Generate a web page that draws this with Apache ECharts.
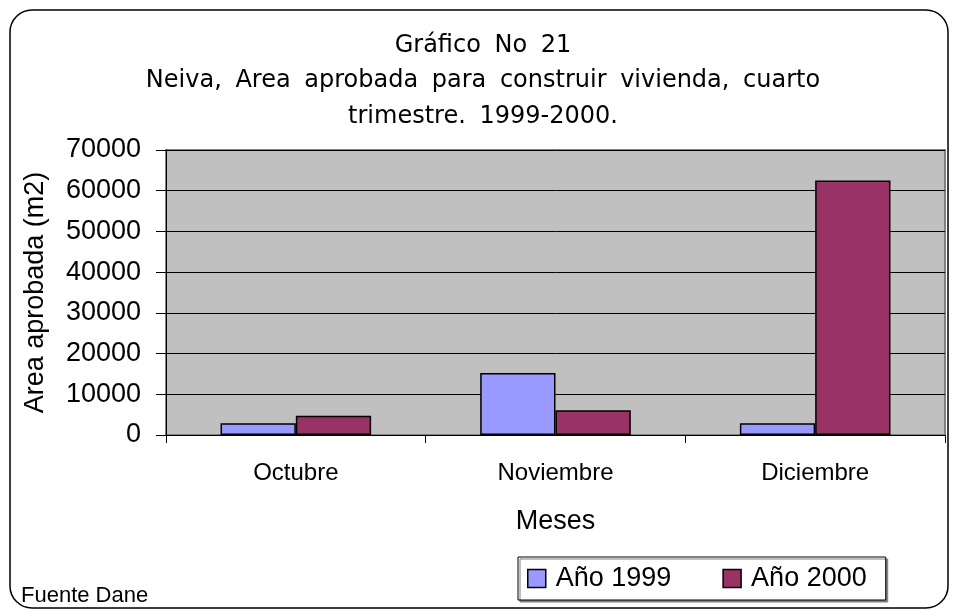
<!DOCTYPE html>
<html>
<head>
<meta charset="utf-8">
<script src="https://cdn.jsdelivr.net/npm/echarts@6/dist/echarts.min.js"></script>
<style>
  html, body { margin: 0; padding: 0; background: #fff; }
  #chart { width: 957px; height: 613px; }
</style>
</head>
<body>
<div id="chart"></div>
<script>
// data
var meses = ["Octubre", "Noviembre", "Diciembre"];
var ano1999 = [2900, 15200, 2900];
var ano2000 = [4750, 6100, 62500];
var yTicks = [0, 10000, 20000, 30000, 40000, 50000, 60000, 70000];
var titleLines = [
  "Gráfico No 21",
  "Neiva, Area aprobada para construir vivienda, cuarto",
  "trimestre. 1999-2000.",
];

// the original title font is widely spaced, so spaces get a bit of padding
function spaced(line) {
  return line.split(" ").join("{s| }");
}

var chartDom = document.getElementById("chart");
var myChart = echarts.init(chartDom);
var option;

option = {
  backgroundColor: "#fff",
  animation: false,
  title: {
    text: titleLines.map(spaced).join("\n"),
    left: 478,
    textAlign: "center",
    top: 23,
    textStyle: {
      fontFamily: "DejaVu Sans",
      fontWeight: "normal",
      fontSize: 24,
      lineHeight: 35.5,
      color: "#000",
      rich: {
        s: {
          fontFamily: "DejaVu Sans",
          fontSize: 24,
          lineHeight: 35.5,
          color: "#000",
          padding: [0, 3, 0, 3],
        },
      },
    },
  },
  legend: {
    left: 518,
    top: 557,
    padding: [8, 19, 8, 9],
    itemGap: 51,
    itemWidth: 18,
    itemHeight: 18,
    borderColor: "#000",
    borderWidth: 1,
    backgroundColor: "#fff",
    shadowColor: "#808080",
    shadowOffsetX: 2,
    shadowOffsetY: 2,
    textStyle: {
      fontFamily: "Liberation Sans",
      fontSize: 27,
      color: "#000",
      padding: [0, 0, 0, 5],
    },
    data: [
      { name: "Año 1999", icon: "rect", itemStyle: { borderColor: "#000", borderWidth: 1.5 } },
      { name: "Año 2000", icon: "rect", itemStyle: { borderColor: "#000", borderWidth: 1.5 } },
    ],
  },
  grid: {
    left: 166,
    top: 150,
    right: 12,
    bottom: 178,
    show: true,
    backgroundColor: "#C0C0C0",
    borderColor: "#808080",
    borderWidth: 2,
  },
  xAxis: {
    type: "category",
    data: meses,
    name: "Meses",
    nameLocation: "middle",
    nameGap: 73,
    nameTextStyle: {
      fontFamily: "Liberation Sans",
      fontSize: 27,
      color: "#000",
    },
    axisLine: { lineStyle: { color: "#000", width: 1 } },
    axisTick: { show: true, length: 8, lineStyle: { color: "#000" } },
    axisLabel: {
      margin: 26,
      fontFamily: "Liberation Sans",
      fontSize: 24,
      color: "#000",
    },
  },
  yAxis: {
    type: "value",
    min: yTicks[0],
    max: yTicks[yTicks.length - 1],
    interval: 10000,
    name: "Area aprobada (m2)",
    nameLocation: "middle",
    nameGap: 117,
    nameTextStyle: {
      fontFamily: "Liberation Sans",
      fontSize: 27,
      color: "#000",
    },
    axisLine: { show: true, lineStyle: { color: "#000", width: 1 } },
    axisTick: { show: true, length: 10, lineStyle: { color: "#000" } },
    axisLabel: {
      margin: 25,
      fontFamily: "Liberation Sans",
      fontSize: 27,
      color: "#000",
      formatter: function (v) { return String(v); },
    },
    splitLine: { show: true, lineStyle: { color: "#000", width: 1 } },
  },
  graphic: [
    {
      type: "rect",
      shape: { x: 10, y: 10, width: 938, height: 598, r: 22 },
      style: { fill: "none", stroke: "#000", lineWidth: 1.5 },
      silent: true,
    },
    {
      type: "text",
      left: 21,
      top: 585,
      style: {
        text: "Fuente Dane",
        fontFamily: "Liberation Sans",
        fontSize: 22,
        fill: "#000",
      },
    },
  ],
  series: [
    {
      name: "Año 1999",
      type: "bar",
      data: ano1999,
      barWidth: "29%",
      barGap: "0%",
      itemStyle: { color: "#9999FF", borderColor: "#000", borderWidth: 1.5 },
    },
    {
      name: "Año 2000",
      type: "bar",
      data: ano2000,
      barWidth: "29%",
      barGap: "0%",
      itemStyle: { color: "#993366", borderColor: "#000", borderWidth: 1.5 },
    },
  ],
};

option && myChart.setOption(option);
</script>
</body>
</html>
